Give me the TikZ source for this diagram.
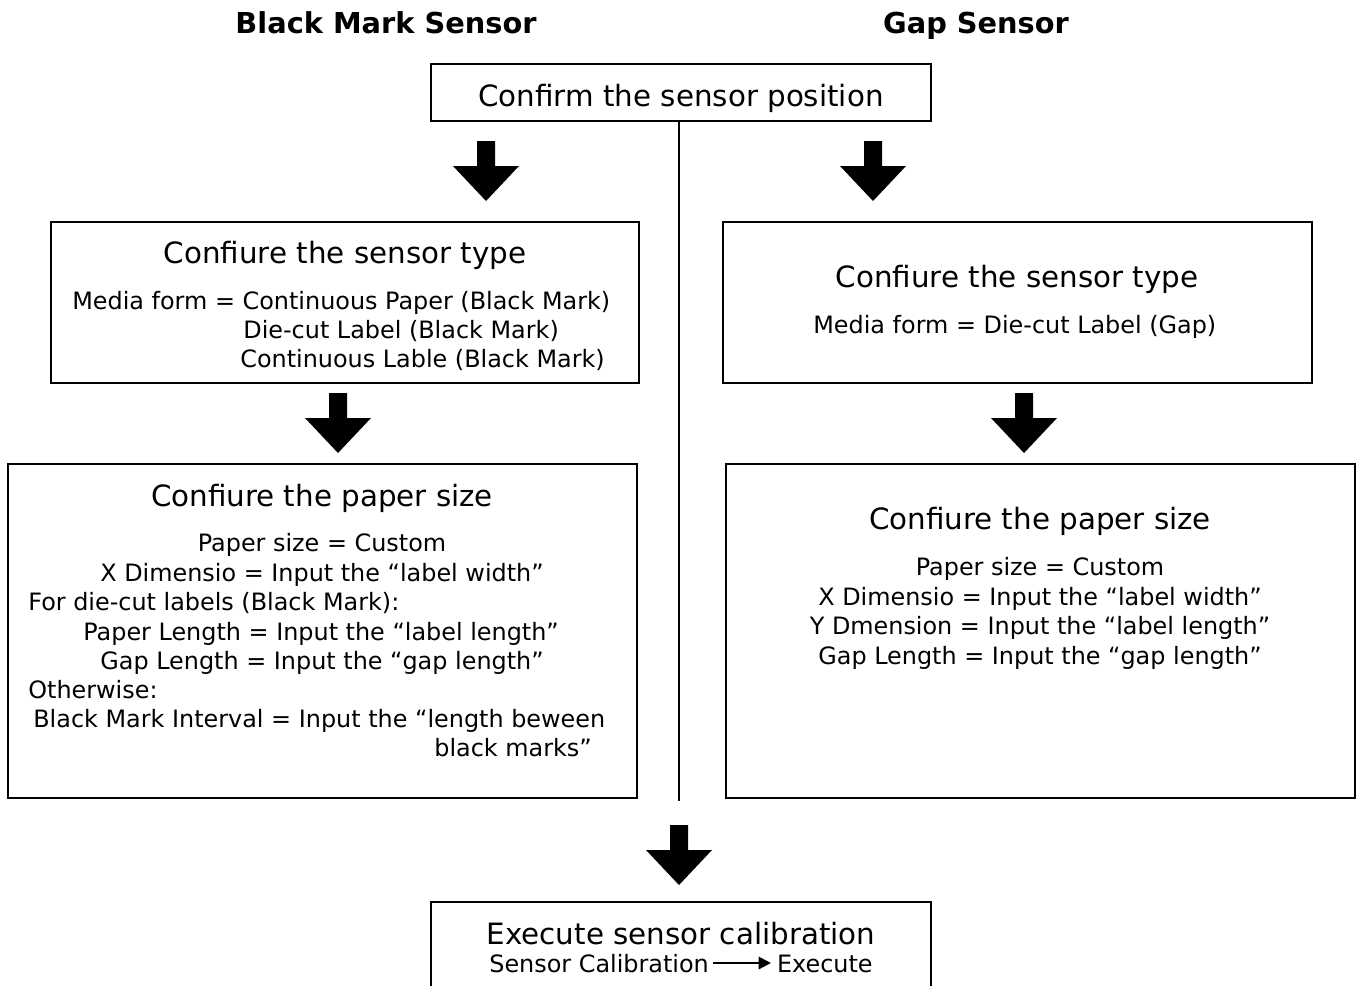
\documentclass[tikz,border=0pt]{standalone}
\usepackage{fontspec}
\setmainfont{DejaVu Sans}
\usetikzlibrary{arrows.meta,fit}
\tikzset{
  box/.style={draw, line width=1.13pt, inner sep=0pt},
  conn/.style={line width=1.13pt},
  ttl/.style={font=\fontsize{16.7}{20}\selectfont, inner sep=0pt, anchor=base},
  txt/.style={font=\fontsize{13.6}{16.5}\selectfont, inner sep=0pt, anchor=base west},
  txc/.style={font=\fontsize{13.6}{16.5}\selectfont, inner sep=0pt, anchor=base},
  hdr/.style={font=\fontsize{16.4}{20}\selectfont\bfseries, inner sep=0pt, anchor=base},
  blockarrow/.pic={\fill (-9,0) -- (9,0) -- (9,25) -- (33,25) -- (0,60) -- (-33,25) -- (-9,25) -- cycle;}
}
\begin{document}
\begin{tikzpicture}[x=0.02cm,y=-0.02cm]
\useasboundingbox (0,0) rectangle (1358,985);
\clip (0,0) rectangle (1358,985);
\fill[white] (0,0) rectangle (1358,985);

% headers
\node[hdr] (hbm) at (386,33) {Black Mark Sensor};
\node[hdr] (hgs) at (976,33) {Gap Sensor};

% top box
\node[box, fit={(431,64) (931,121)}] (top) {};
\node[ttl] (topt) at (681,106) {Confirm the sensor position};

% vertical divider
\coordinate (vend) at (679,801);
\draw[conn] (top.south -| vend) -- (vend);

% block arrows
\pic at (486,141) {blockarrow};
\pic at (873,141) {blockarrow};
\pic at (338,393) {blockarrow};
\pic at (1024,393) {blockarrow};
\pic at (679,825) {blockarrow};

% left sensor type box
\node[box, fit={(51,222) (639,383)}] (bm1) {};
\node[ttl] (bm1t) at (345,263) {Confiure the sensor type};
\node[txt] (bm1a) at (72,309) {Media form = Continuous Paper (Black Mark)};
\node[txt] (bm1b) at (243,338) {Die-cut Label (Black Mark)};
\node[txt] (bm1c) at (240,367) {Continuous Lable (Black Mark)};

% right sensor type box
\node[box, fit={(723,222) (1312,383)}] (gs1) {};
\node[ttl] (gs1t) at (1017,287) {Confiure the sensor type};
\node[txt] (gs1a) at (813,333) {Media form = Die-cut Label (Gap)};

% left paper size box
\node[box, fit={(8,464) (637,798)}] (bm2) {};
\node[ttl] (bm2t) at (322,506) {Confiure the paper size};
\node[txc] (bm2a) at (322,551) {Paper size = Custom};
\node[txt] (bm2b) at (100,581) {X Dimensio = Input the “label width”};
\node[txt] (bm2c) at (28,610) {For die-cut labels (Black Mark):};
\node[txt] (bm2d) at (83,640) {Paper Length = Input the “label length”};
\node[txt] (bm2e) at (100,669) {Gap Length = Input the “gap length”};
\node[txt] (bm2f) at (28,698) {Otherwise:};
\node[txt] (bm2g) at (33,727) {Black Mark Interval = Input the “length beween};
\node[txt] (bm2h) at (434,756) {black marks”};

% right paper size box
\node[box, fit={(726,464) (1355,798)}] (gs2) {};
\node[ttl] (gs2t) at (1040,529) {Confiure the paper size};
\node[txc] (gs2a) at (1040,575) {Paper size = Custom};
\node[txc] (gs2b) at (1040,605) {X Dimensio = Input the “label width”};
\node[txc] (gs2c) at (1040,634) {Y Dmension = Input the “label length”};
\node[txc] (gs2d) at (1040,664) {Gap Length = Input the “gap length”};

% bottom box
\node[box, fit={(431,902) (931,1010)}] (cal) {};
\node[ttl] (calt) at (681,944) {Execute sensor calibration};
\node[txt] (cala) at (489,972) {Sensor Calibration};
\node[txt, anchor=base east] (calb) at (873,972) {Execute};
\coordinate (ca1) at (713,963);
\coordinate (ca2) at (771,963);
\draw[conn, -{Triangle[length=7pt,width=7pt]}] (ca1) -- (ca2);
\end{tikzpicture}
\end{document}
